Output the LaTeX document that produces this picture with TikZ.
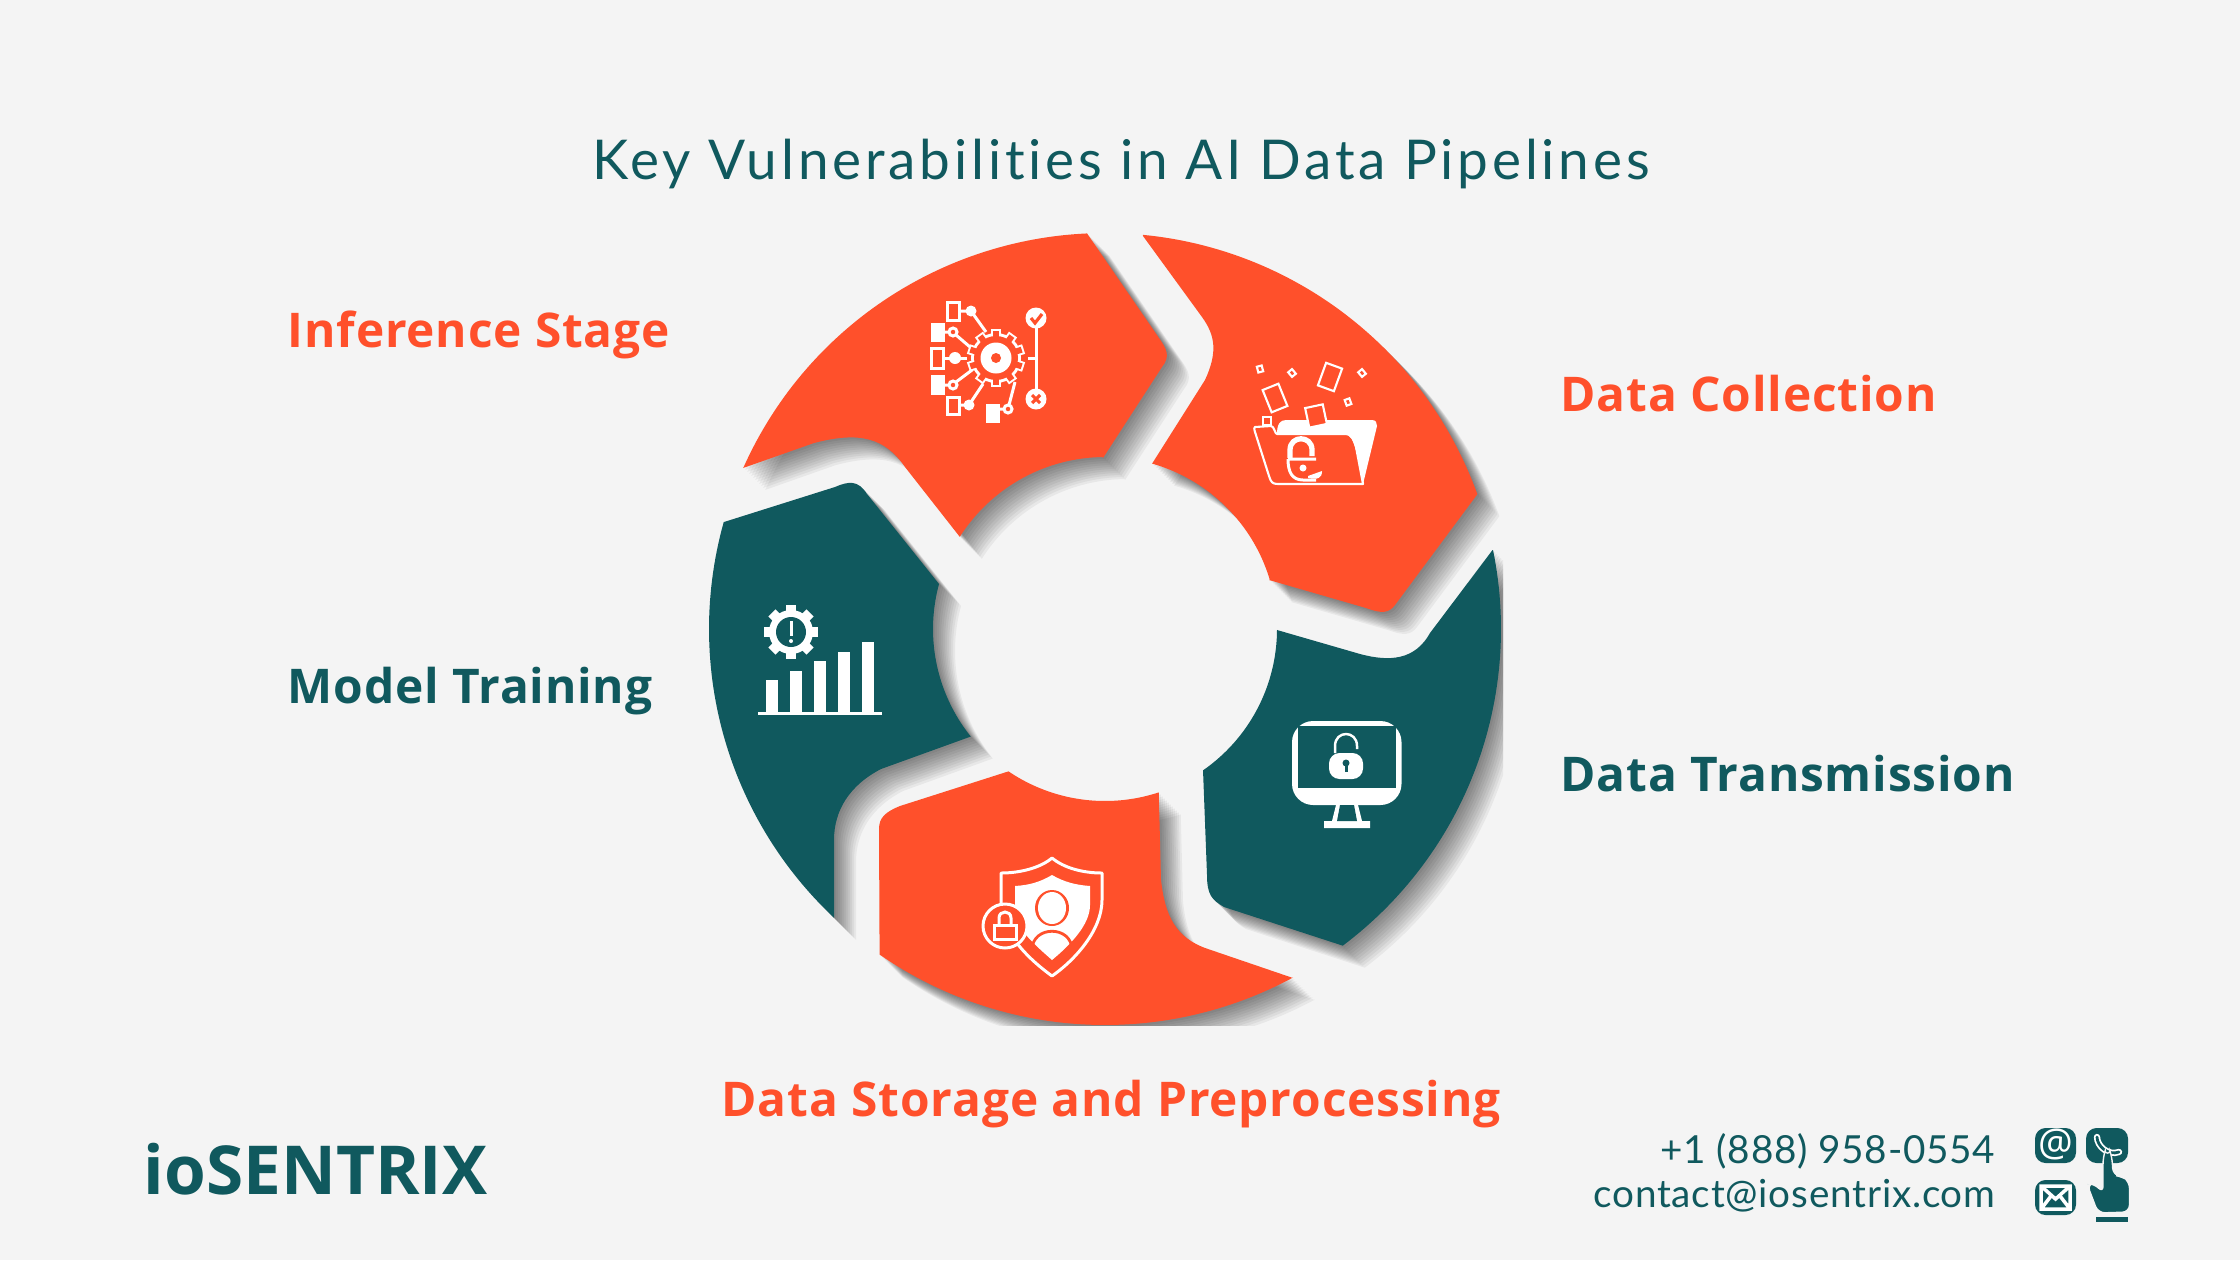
\documentclass[tikz,border=0pt]{standalone}
\usepackage{fontspec}
\setmainfont{Lato}
\newfontfamily\titlefont[LetterSpace=7,Ligatures=NoCommon]{Lato}
\newfontfamily\labelfont[LetterSpace=1.8]{Open Sans}
\newfontfamily\brandfont{Open Sans}
\newfontfamily\contactfont[LetterSpace=2,Ligatures=NoCommon]{Lato}
\usetikzlibrary{calc}
\definecolor{pagebg}{HTML}{F4F4F4}
\definecolor{segorange}{HTML}{FF502B}
\definecolor{segteal}{HTML}{10595E}

% Ring arcs, angles run clockwise because y points down
\newcommand\ox{1105+396*cos(\x)}
\newcommand\oy{629+396*sin(\x)}
\newcommand\ix{1105+172*cos(\x)}
\newcommand\iy{629+172*sin(\x)}

% Segment outlines
\newcommand\pathinference{(743,468) -- plot[domain=204:267.4,samples=60] ({\ox},{\oy}) -- (1159,338) .. controls (1166,348) and (1171,356) .. (1162,367) -- (1103,458) -- plot[domain=269.3:212.4,samples=40] ({\ix},{\iy}) -- (905,467) .. controls (885,438) and (860,431) .. (814,443) -- cycle}
\newcommand\pathcollection{(1143,236) -- plot[domain=275.5:340.1,samples=60] ({\ox},{\oy}) -- (1395,605) .. controls (1389,613) and (1382,614) .. (1366,608) -- (1269,580) -- plot[domain=343.4:285.9,samples=40] ({\ix},{\iy}) -- (1205,380) .. controls (1218,352) and (1215,335) .. (1202,317) -- cycle}
\newcommand\pathtraining{(724,522) -- (835,487) .. controls (849,481) and (858,480) .. (867,494) -- (939,584) -- plot[domain=195.2:141.3,samples=40] ({\ix},{\iy}) -- (881,769) .. controls (850,785) and (834,810) .. (834,840) -- (834,918) -- plot[domain=133.2:195.7,samples=60] ({\ox},{\oy}) -- cycle}
\newcommand\pathstorage{(1008,771.5) -- plot[domain=124.2:71.8,samples=40] ({\ix},{\iy}) -- (1161,880) .. controls (1165,915) and (1175,938) .. (1208,949) -- (1293,978) -- plot[domain=61.7:124.7,samples=60] ({\ox},{\oy}) -- (879,829) .. controls (879,818) and (885,812) .. (900,806) -- cycle}
\newcommand\pathtransmission{(1277,630) -- (1360,654) .. controls (1390,662) and (1415,660) .. (1430,633) -- (1492.5,550) -- plot[domain=-11.5:53.1,samples=60] ({\ox},{\oy}) -- (1224,907) .. controls (1212,900) and (1207,895) .. (1207,875) -- (1203,770) -- plot[domain=55.2:0.3,samples=40] ({\ix},{\iy}) -- cycle}

\tikzset{
    shadowlayer/.style={fill=black, opacity=0.05},
    iconline/.style={draw=white, line width=0.85pt},
    iconthin/.style={draw=white, line width=0.6pt},
    seglabel/.style={anchor=base west, inner sep=0pt, font=\labelfont\bfseries\fontsize{13.6}{16}\selectfont},
    contact/.style={anchor=base east, inner sep=0pt, text=segteal, font=\contactfont\fontsize{11}{14}\selectfont}
}

\begin{document}
\begin{tikzpicture}[x=0.01cm,y=-0.01cm]
        \fill[pagebg] (0,0) rectangle (2240,1260);

        % Shadows, cut off by the edge of the ring picture
        \begin{scope}
            \clip (690,200) rectangle (1503,1025);
            \foreach \d in {2,4,...,22} {
                \fill[shadowlayer,shift={(\d,\d)}] \pathinference;
                \fill[shadowlayer,shift={(\d,\d)}] \pathcollection;
                \fill[shadowlayer,shift={(\d,\d)}] \pathtraining;
                \fill[shadowlayer,shift={(\d,\d)}] \pathstorage;
                \fill[shadowlayer,shift={(\d,\d)}] \pathtransmission;
            }
        \end{scope}

        % Segments
        \fill[segorange] \pathinference;
        \fill[segorange] \pathcollection;
        \fill[segteal] \pathtraining;
        \fill[segorange] \pathstorage;
        \fill[segteal] \pathtransmission;

        % Title and labels
        \node[anchor=base, inner sep=0pt, text=segteal, font=\titlefont\fontsize{15.6}{18}\selectfont] (title) at (1121,179) {Key Vulnerabilities in AI Data Pipelines};
        \node[seglabel, text=segorange] (inference) at (287,347) {Inference Stage};
        \node[seglabel, text=segorange] (collection) at (1560,411) {Data Collection};
        \node[seglabel, text=segteal] (training) at (287,703) {Model Training};
        \node[seglabel, text=segteal] (transmission) at (1560,791) {Data Transmission};
        \node[seglabel, text=segorange] (storage) at (721,1116) {Data Storage and Preprocessing};
        \node[anchor=base west, inner sep=0pt, text=segteal, font=\brandfont\bfseries\fontsize{19.2}{24}\selectfont] (brand) at (143,1194) {ioSENTRIX};
        \node[contact] (phone) at (1996,1163) {+1 (888) 958-0554};
        \node[contact] (mail) at (1996,1207) {contact@iosentrix.com};

        % Inference icon: gear
        \foreach \a in {0,36,...,324}
            \fill[white,shift={(996,358)},rotate=\a] (-5,21) rectangle (5,29);
        \fill[white] (996,358) circle (25);
        \foreach \a in {0,36,...,324}
            \fill[segorange,shift={(996,358)},rotate=\a] (-3,20) rectangle (3,27);
        \fill[segorange] (996,358) circle (22);
        \fill[white] (996,358) circle (15.5);
        \fill[segorange] (996,358) circle (5);
        % Inference icon: boxes on the left
        \draw[iconline] (947,302) rectangle (959,320);
        \draw[iconline] (931,348) rectangle (943,368);
        \draw[iconline] (947,397) rectangle (959,414);
        \fill[white] (931,323) rectangle (945,342);
        \fill[white] (931,375) rectangle (945,395);
        \fill[white] (986,404) rectangle (1000,423);
        \fill[white] (971,311) circle (5.5);
        \fill[white] (955,358) circle (6);
        \fill[white] (969,405) circle (5.5);
        \draw[iconline] (953,332) circle (4);
        \draw[iconline] (953,385) circle (4);
        \draw[iconline] (1008,409) circle (4);
        \draw[iconline] (959,311) -- (971,311) -- (986,332);
        \draw[iconline] (945,332) -- (949,332) (956,335) -- (970,347);
        \draw[iconline] (943,358) -- (967,358);
        \draw[iconline] (945,385) -- (949,385) (956,382) -- (972,370);
        \draw[iconline] (959,405) -- (969,405) -- (983,384);
        \draw[iconline] (1000,409) -- (1004,409) (1009,405) -- (1015,382);
        % Inference icon: check and cross on the right
        \draw[iconline] (1028,358) -- (1036,358) (1036,328) -- (1036,389);
        \fill[white] (1036,318) circle (10.5);
        \fill[white] (1036,399) circle (10.5);
        \draw[segorange,line width=0.9pt] (1031,318) -- (1035,323) -- (1042,314);
        \draw[segorange,line width=0.9pt] (1032,395) -- (1040,403) (1040,395) -- (1032,403);

        % Collection icon: folder with loose pages
        \foreach \px/\py/\pw/\ph/\pa in {1260/369/2.5/3/15, 1292/373/2.5/3/40, 1362/373/2.5/3/40, 1348/402/2.5/3/20, 1330/377/8.5/12/-20, 1275/398/8.5/12/22}
            \draw[iconthin,shift={(\px,\py)},rotate=\pa] (-\pw,-\ph) rectangle (\pw,\ph);
        \draw[iconthin] (1263,417) rectangle (1271,425);
        \fill[white] (1277,434) .. controls (1277,424) and (1280,420) .. (1286,420) -- (1372,420) .. controls (1376,420) and (1377,423) .. (1377,426) -- (1363,484) .. controls (1358,460) and (1355,434) .. (1345,434) -- cycle;
        \draw[iconthin,fill=segorange,shift={(1316,416)},rotate=12] (-9,-10) rectangle (9,10);
        \fill[segorange] (1277,434) -- (1345,434) -- (1352,447) -- (1277,447) -- cycle;
        \draw[iconthin,line join=round] (1255,427) -- (1271,426) .. controls (1274,426) and (1275,434) .. (1277,434) -- (1345,434) .. controls (1352,434) and (1354,440) .. (1356,447) -- (1363,484) -- (1278,484) .. controls (1272,484) and (1271,482) .. (1269,476) -- (1255,432) .. controls (1254,429) and (1254,427) .. (1255,427) -- cycle;
        \draw[white,line width=1.5pt] (1290,458) -- (1290,450) .. controls (1290,435) and (1312,435) .. (1312,450) -- (1312,456);
        \draw[iconline] (1288,459) -- (1316,459) (1288,459) .. controls (1288,472) and (1292,480) .. (1303,480) -- (1316,480);
        \fill[white] (1303,468) circle (3.5);
        \fill[white] (1308,476) -- (1322,471) .. controls (1322,478) and (1318,480) .. (1308,478) -- cycle;

        % Training icon: gear and bars
        \foreach \a in {0,45,...,315}
            \fill[white,shift={(791,632)},rotate=\a] (-5,20) rectangle (5,27);
        \fill[white] (791,632) circle (22);
        \fill[segteal] (791,632) circle (15);
        \fill[white] (789.5,621) rectangle (792.5,636);
        \fill[white] (791,641) circle (2);
        \foreach \bx/\by in {766/680, 790/670.5, 814/661, 838/652, 861.5/642}
            \fill[white] (\bx,\by) rectangle ++(12,{712-\by});
        \fill[white] (758,712) rectangle (882,715);

        % Transmission icon: monitor with padlock
        \fill[white,rounded corners=6] (1292,721) rectangle (1401.5,805);
        \fill[segteal] (1298,726) rectangle (1396,788);
        \fill[white] (1336,805) -- (1358,805) -- (1362,821) -- (1370,821) -- (1370,828) -- (1324,828) -- (1324,821) -- (1332,821) -- cycle;
        \fill[segteal] (1340,805) -- (1354,805) -- (1357,821) -- (1337,821) -- cycle;
        \draw[white,line width=0.7pt] (1335,753) -- (1335,746) .. controls (1335,730) and (1357,730) .. (1357,746) -- (1357,749);
        \fill[white,rounded corners=3] (1329,753) rectangle (1363,779);
        \fill[segteal] (1346,763) circle (3.5);
        \fill[segteal] (1344.5,763) rectangle (1347.5,772);

        % Storage icon: shield with person and padlock
        \draw[iconline,line join=round] (1052,858) .. controls (1040,868) and (1020,873) .. (1001,873) -- (1001,905) .. controls (1003,935) and (1030,960) .. (1052,976) .. controls (1075,960) and (1102,930) .. (1102,900) -- (1102,873) .. controls (1083,873) and (1064,868) .. (1052,858) -- cycle;
        \fill[white] (1052,875) .. controls (1040,882) and (1030,885) .. (1015,886) -- (1015,915) .. controls (1018,930) and (1035,945) .. (1052,960) .. controls (1070,945) and (1090,925) .. (1090,905) -- (1090,886) .. controls (1076,885) and (1064,882) .. (1052,875) -- cycle;
        \fill[segorange] (1052,908) ellipse (17 and 18);
        \fill[white] (1052,908) ellipse (14 and 16);
        \draw[segorange,line width=0.8pt] (1032,950) .. controls (1032,925) and (1072,925) .. (1072,950);
        \draw[iconline,fill=segorange] (1005,926) circle (22);
        \draw[iconline] (999,924) -- (999,918) .. controls (999,910) and (1011,910) .. (1011,918) -- (1011,924);
        \draw[iconline] (994,925) rectangle (1016,939);

        % Contact icons
        \fill[segteal,rounded corners=3] (2035,1128) rectangle (2076,1163);
        \fill[segteal,rounded corners=3] (2086,1128) rectangle (2128,1163);
        \fill[segteal,rounded corners=3] (2035,1180) rectangle (2076,1215);
        \node[inner sep=0pt, text=white, font=\brandfont\fontsize{11}{12}\selectfont] (atsign) at (2055.5,1144) {@};
        \draw[white,line width=1.8pt,line cap=round] (2097,1137) .. controls (2097,1146) and (2108,1156) .. (2119,1152);
        \draw[segteal,line width=0.8pt,line cap=round] (2097,1137) .. controls (2097,1146) and (2108,1156) .. (2119,1152);
        \draw[white,line width=1pt] (2041,1186) rectangle (2070,1209) (2041,1186) -- (2055.5,1199) -- (2070,1186) (2041,1209) -- (2051,1196) (2070,1209) -- (2060,1196);
        \fill[segteal,draw=pagebg,line width=0.4pt,rounded corners=2] (2103,1193) -- (2103,1157) .. controls (2104,1154) and (2111,1154) .. (2112,1157) -- (2113,1175) -- (2123,1177) -- (2129.5,1181) -- (2129.5,1212) -- (2098,1213) -- (2087,1184) -- (2094,1183) -- cycle;
        \fill[segteal] (2096,1217) rectangle (2128,1222);

\end{tikzpicture}
\end{document}
